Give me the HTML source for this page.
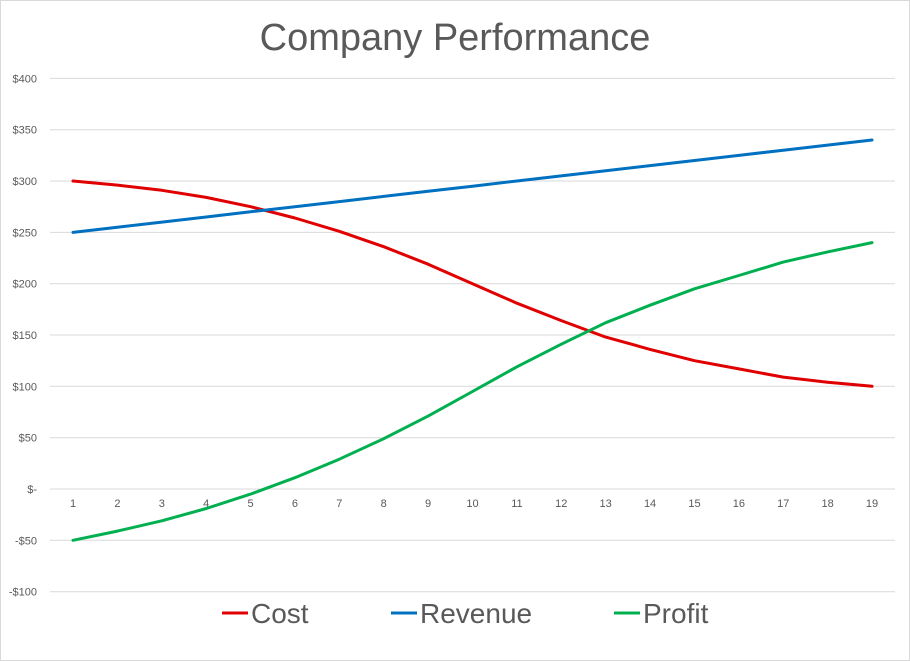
<!DOCTYPE html>
<html><head><meta charset="utf-8"><style>
html,body{margin:0;padding:0;background:#fff}
svg{display:block}
text{font-family:"Liberation Sans",sans-serif}
</style></head><body>
<svg id="c" width="910" height="661" viewBox="0 0 910 661" xmlns="http://www.w3.org/2000/svg">
<rect x="0.5" y="0.5" width="909" height="660" fill="#fff" stroke="#d9d9d9"/>
<text x="455" y="50" text-anchor="middle" font-size="38" fill="#595959">Company Performance</text>
<g id="grid" stroke="#d9d9d9" stroke-width="1"></g>
<g id="ylab" font-size="11" fill="#595959" text-anchor="end"></g>
<g id="xlab" font-size="11" fill="#595959" text-anchor="middle"></g>
<g id="series" fill="none" stroke-width="3" stroke-linejoin="round" stroke-linecap="round"></g>
<g font-size="28" fill="#595959">
<line x1="222" y1="613" x2="248" y2="613" stroke="#e00000" stroke-width="3"/>
<text x="251" y="623">Cost</text>
<line x1="391" y1="613" x2="417" y2="613" stroke="#0070c0" stroke-width="3"/>
<text x="420" y="623">Revenue</text>
<line x1="614" y1="613" x2="640" y2="613" stroke="#00b050" stroke-width="3"/>
<text x="643" y="623">Profit</text>
</g>
</svg>
<script>
var NS="http://www.w3.org/2000/svg";
function el(p,t,a,txt){var e=document.createElementNS(NS,t);for(var k in a)e.setAttribute(k,a[k]);if(txt!=null)e.textContent=txt;document.getElementById(p).appendChild(e);}
function Y(v){return 489-v*1.0266;}
function X(i){return 73+(i-1)*44.39;}
var labs={400:"$400",350:"$350",300:"$300",250:"$250",200:"$200",150:"$150",100:"$100",50:"$50",0:"$-","-50":"-$50","-100":"-$100"};
for(var v=400;v>=-100;v-=50){var y=Y(v).toFixed(1);el("grid","line",{x1:50,x2:895,y1:y,y2:y});el("ylab","text",{x:37,y:+y+4},labs[v]);}
for(var i=1;i<=19;i++)el("xlab","text",{x:X(i),y:507},i);
var cost=[300,296,291,284,275,264,251,236,219,200,181,164,148,136,125,117,109,104,100];
var rev=[],prof=[];
for(var i=0;i<19;i++){rev.push(250+5*i);prof.push(250+5*i-cost[i]);}
function pts(a){return a.map(function(v,i){return X(i+1).toFixed(1)+","+Y(v).toFixed(1)}).join(" ");}
el("series","polyline",{points:pts(cost),stroke:"#e00000"});
el("series","polyline",{points:pts(rev),stroke:"#0070c0"});
el("series","polyline",{points:pts(prof),stroke:"#00b050"});
</script>
</body></html>
